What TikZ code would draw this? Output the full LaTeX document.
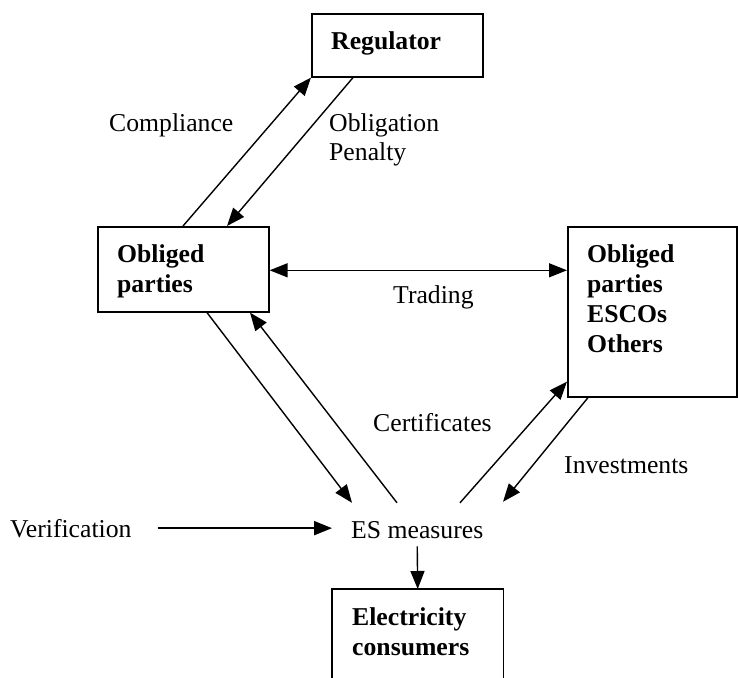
\documentclass[tikz,border=0pt]{standalone}
\usepackage{fontspec}
\setmainfont{Liberation Serif}
\usetikzlibrary{arrows.meta}
\begin{document}
\begin{tikzpicture}[x=1pt,y=-1pt,
  font=\fontsize{25.7pt}{30pt}\selectfont,
  frame/.style={draw, line width=1.6pt, inner sep=0pt, anchor=north west},
  label/.style={inner sep=0pt, anchor=base west},
  boxtext/.style={inner sep=0pt, anchor=north west, align=left, font=\fontsize{25.7pt}{30pt}\selectfont\bfseries},
  arr/.style={line width=1.4pt, -{Triangle[length=18pt,width=14pt]}},
  dbl/.style={line width=1.4pt, {Triangle[length=18pt,width=14pt]}-{Triangle[length=18pt,width=14pt]}}]
\useasboundingbox (0,0) rectangle (738,677);

% boxes
\node[frame, minimum width=171pt, minimum height=63pt] (reg) at (311,13) {};
\node[frame, minimum width=171pt, minimum height=85pt] (op) at (97,226) {};
\node[frame, minimum width=169pt, minimum height=170pt] (oth) at (567,226) {};
\node[inner sep=0pt, anchor=north west, minimum width=171pt, minimum height=90pt] (cons) at (332,589) {};
\draw[line width=1.6pt] (cons.south west) -- (cons.north west) -- (cons.north east) -- (cons.south east);

% box texts
\node[label, font=\fontsize{25.7pt}{30pt}\selectfont\bfseries] (regt) at (331,50) {Regulator};
\node[boxtext] (opt) at (117,244) {Obliged\\parties};
\node[boxtext] (otht) at (587,244) {Obliged\\parties\\ESCOs\\Others};
\node[boxtext] (const) at (352,607) {Electricity\\consumers};

% free texts
\node[label] (es) at (351,538) {ES measures};
\node[label] (ver) at (10,537) {Verification};
\node[label] (comp) at (109,131) {Compliance};
\node[label] (obl) at (329,131) {Obligation};
\node[label] (pen) at (329,160) {Penalty};
\node[label] (trd) at (393,303) {Trading};
\node[label] (cert) at (373,431) {Certificates};
\node[label] (inv) at (564,473) {Investments};

% connectors
\draw[arr] ([xshift=86pt]op.north west) -- (reg.south west);
\draw[arr] ([xshift=42pt]reg.south west) -- ([xshift=130pt]op.north west);
\draw[dbl] ([yshift=-1pt]op.east) -- ([yshift=-1pt]op.east -| oth.west);
\draw[arr] ([xshift=110pt]op.south west) -- ([xshift=1pt,yshift=18pt]es.north west);
\draw[arr] ([xshift=46pt,yshift=18pt]es.north west) -- ([xshift=153pt]op.south west);
\draw[arr] ([xshift=109pt,yshift=18pt]es.north west) -- ([yshift=16pt]oth.south west);
\draw[arr] ([xshift=21pt]oth.south west) -- ([xshift=152pt,yshift=19pt]es.north west);
\draw[arr] ([yshift=-8pt]es.south) -- (cons.north);
\draw[arr, line width=2pt] ([xshift=26pt]ver.east) -- ([xshift=-19pt]es.west |- ver.east);
\end{tikzpicture}
\end{document}
